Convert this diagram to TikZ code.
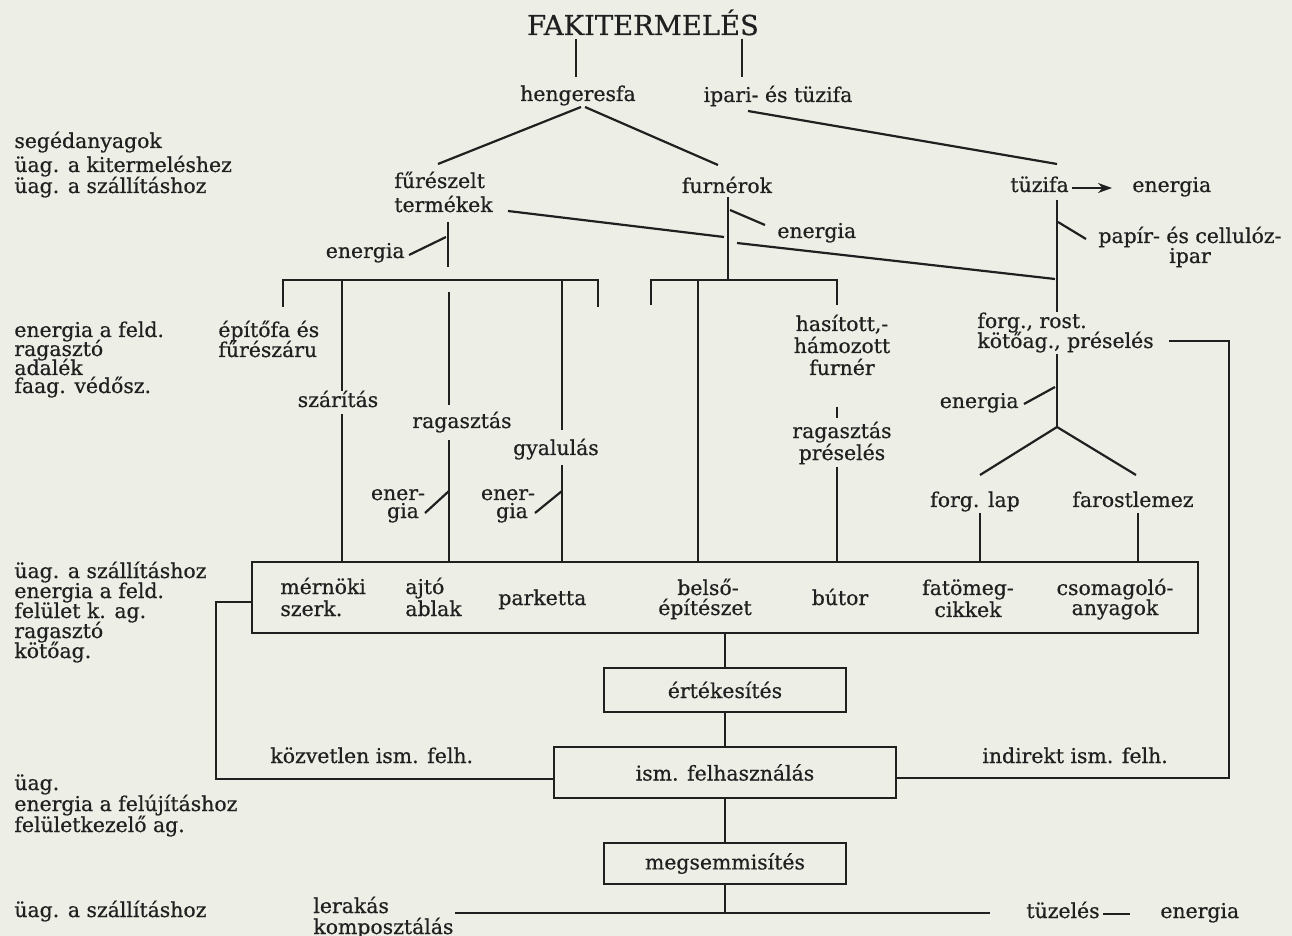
\documentclass[tikz,border=0pt]{standalone}
\usepackage{fontspec}
\setmainfont{DejaVu Serif}[FakeBold=0.6]
\usetikzlibrary{arrows.meta}
\definecolor{paper}{RGB}{237,239,231}
\definecolor{ink}{RGB}{32,32,32}
\tikzset{
  lbl/.style={inner sep=0pt, text=ink, font=\fontsize{10.2pt}{11pt}\selectfont},
  lw/.style={lbl, anchor=base west},
  lc/.style={lbl, anchor=base},
  le/.style={lbl, anchor=base east},
  ttl/.style={inner sep=0pt, text=ink, anchor=base, font=\fontsize{13.7pt}{15pt}\selectfont},
  bx/.style={draw=ink, line width=1.1pt, inner sep=0pt, text=ink, font=\fontsize{10.2pt}{11pt}\selectfont},
  ln/.style={draw=ink, line width=1.1pt},
}
\begin{document}
\begin{tikzpicture}[x=0.5pt,y=-0.5pt]
\useasboundingbox (0,0) rectangle (1292,936);
\clip (0,0) rectangle (1292,936);
\fill[paper] (0,0) rectangle (1292,936);

% ---------- top ----------
\node[ttl] (title) at (643,35) {FAKITERMELÉS};
\node[lc] (heng) at (578,101) {hengeresfa};
\node[lc] (ipari) at (778,102) {ipari- és tüzifa};
\draw[ln] (576,39) -- (576,77);
\draw[ln] (742,39) -- (742,77);
\draw[ln] (581,107) -- (438,164);
\draw[ln] (585,107) -- (718,165);
\draw[ln] (748,111) -- (1057,164);

\node[lw] (fur1) at (394,188) {fűrészelt};
\node[lw] (fur2) at (394,212) {termékek};
\node[lc] (furn) at (727,193) {furnérok};
\node[lw] (tuzi) at (1010,192) {tüzifa};
\node[lw] (en1) at (1132,192) {energia};
\coordinate (a1) at (1072,188);
\coordinate (a2) at (1112,188);
\draw[ln, -{Stealth[length=7pt,width=5pt]}] (a1) -- (a2);
\node[lw] (en2) at (777,238) {energia};
\node[lc] (pap1) at (1190,243) {papír- és cellulóz-};
\node[lc] (pap2) at (1190,263) {ipar};
\node[le] (en3) at (405,258) {energia};

% left column
\node[lw] (s1) at (14,148) {segédanyagok};
\node[lw] (s2) at (14,172) {üag. a kitermeléshez};
\node[lw] (s3) at (14,193) {üag. a szállításhoz};
\node[lw] (s4) at (14,337) {energia a feld.};
\node[lw] (s5) at (14,356) {ragasztó};
\node[lw] (s6) at (14,375) {adalék};
\node[lw] (s7) at (14,393) {faag. védősz.};
\node[lw] (s8) at (14,578) {üag. a szállításhoz};
\node[lw] (s9) at (14,598) {energia a feld.};
\node[lw] (s10) at (14,618) {felület k. ag.};
\node[lw] (s11) at (14,638) {ragasztó};
\node[lw] (s12) at (14,658) {kötőag.};
\node[lw] (s13) at (14,790) {üag.};
\node[lw] (s14) at (14,811) {energia a felújításhoz};
\node[lw] (s15) at (14,832) {felületkezelő ag.};
\node[lw] (s16) at (14,917) {üag. a szállításhoz};

% crossing line termékek -> tüzifa
\draw[ln] (508,211) -- (724,237);
\draw[ln] (737,243) -- (1055,279);

% under fürészelt termékek
\draw[ln] (448,222) -- (448,267);
\draw[ln] (409,255) -- (446,237);
\draw[ln] (283,307) -- (283,280) -- (598,280) -- (598,307);

\node[lw] (ep1) at (218,337) {építőfa és};
\node[lw] (ep2) at (218,357) {fűrészáru};
\node[lc] (szar) at (338,407) {szárítás};
\node[lc] (rag1) at (462,428) {ragasztás};
\node[lc] (gyal) at (556,455) {gyalulás};
\node[lc] (e1a) at (398,500) {ener-};
\node[lc] (e1b) at (403,518) {gia};
\node[lc] (e2a) at (508,500) {ener-};
\node[lc] (e2b) at (512,518) {gia};

\draw[ln] (342,280) -- (342,391);
\draw[ln] (342,414) -- (342,562);
\draw[ln] (449,292) -- (449,405);
\draw[ln] (449,440) -- (449,562);
\draw[ln] (562,280) -- (562,430);
\draw[ln] (562,465) -- (562,562);
\draw[ln] (425,513) -- (449,491);
\draw[ln] (535,513) -- (562,491);

% under furnérok
\draw[ln] (728,197) -- (728,280);
\draw[ln] (730,210) -- (765,225);
\draw[ln] (651,305) -- (651,280) -- (837,280) -- (837,305);
\draw[ln] (698,280) -- (698,562);

\node[lc] (has1) at (842,331) {hasított,-};
\node[lc] (has2) at (842,353) {hámozott};
\node[lc] (has3) at (842,375) {furnér};
\node[lc] (rp1) at (842,438) {ragasztás};
\node[lc] (rp2) at (842,460) {préselés};
\draw[ln] (837,407) -- (837,418);
\draw[ln] (837,467) -- (837,562);

% under tüzifa
\draw[ln] (1057,200) -- (1057,312);
\draw[ln] (1058,222) -- (1086,239);

\node[lw] (fr1) at (977,328) {forg., rost.};
\node[lw] (fr2) at (977,348) {kötőag., préselés};
\node[le] (en4) at (1019,408) {energia};
\draw[ln] (1057,354) -- (1057,427);
\draw[ln] (1024,404) -- (1055,387);
\draw[ln] (980,475) -- (1057,427) -- (1136,475);
\node[lc] (flap) at (975,507) {forg. lap};
\node[lc] (farl) at (1133,507) {farostlemez};
\draw[ln] (980,513) -- (980,562);
\draw[ln] (1138,513) -- (1138,562);
\draw[ln] (1169,341) -- (1229,341) -- (1229,778) -- (896,778);

% product box
\node[bx, minimum width=473pt, minimum height=35.5pt] (prod) at (725,597.5) {};
\node[lw] (p1a) at (280,594) {mérnöki};
\node[lw] (p1b) at (280,616) {szerk.};
\node[lw] (p2a) at (405,594) {ajtó};
\node[lw] (p2b) at (405,616) {ablak};
\node[lw] (p3) at (498,605) {parketta};
\node[lc] (p4a) at (708,595) {belső-};
\node[lc] (p4b) at (705,615) {építészet};
\node[lc] (p5) at (840,605) {bútor};
\node[lc] (p6a) at (968,595) {fatömeg-};
\node[lc] (p6b) at (968,617) {cikkek};
\node[lc] (p7a) at (1115,595) {csomagoló-};
\node[lc] (p7b) at (1115,615) {anyagok};

% chain of boxes
\node[bx, minimum width=121pt, minimum height=22pt] (ert) at (725,690) {értékesítés};
\node[bx, minimum width=171pt, minimum height=25.5pt] (ism) at (725,772.5) {ism. felhasználás};
\node[bx, minimum width=121pt, minimum height=20.5pt] (megs) at (725,863.5) {megsemmisítés};
\draw[ln] (prod.south -| ert.north) -- (ert.north);
\draw[ln] (ert.south) -- (ism.north);
\draw[ln] (ism.south) -- (megs.north);
\coordinate (bot) at (725,913);
\draw[ln] (megs.south) -- (bot);
\draw[ln] (455,913) -- (990,913);

% left return bracket
\draw[ln] (prod.west |- 0,602) -- (216,602) -- (216,779) -- (ism.west |- 0,779);
\node[lw] (kozv) at (270,763) {közvetlen ism. felh.};
\node[lw] (indi) at (982,763) {indirekt ism. felh.};

% bottom
\node[lw] (ler1) at (313,913) {lerakás};
\node[lw] (ler2) at (313,934) {komposztálás};
\node[lw] (tuz) at (1026,918) {tüzelés};
\node[lw] (en5) at (1160,918) {energia};
\draw[ln] (1103,914) -- (1130,914);
\end{tikzpicture}
\end{document}
